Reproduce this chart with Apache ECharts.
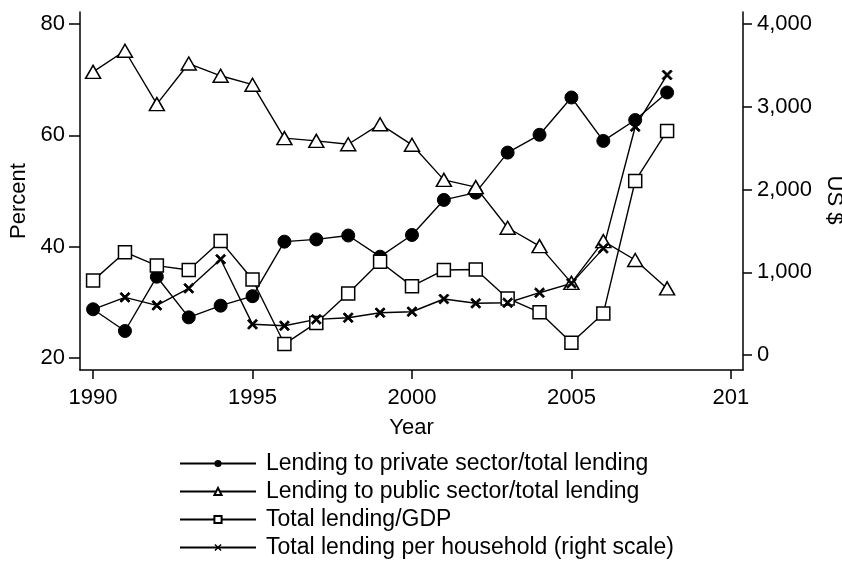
<!DOCTYPE html>
<html>
<head>
<meta charset="utf-8">
<script src="https://cdn.jsdelivr.net/npm/echarts@6/dist/echarts.min.js"></script>
<style>html,body{margin:0;padding:0;background:#fff}#c{width:842px;height:561px}</style>
</head>
<body>
<div id="c"></div>
<script>
const years = [1990,1991,1992,1993,1994,1995,1996,1997,1998,1999,2000,2001,2002,2003,2004,2005,2006,2007,2008];
const privateShare = [28.75,24.85,34.6,27.3,29.4,31.1,40.9,41.3,42.0,38.2,42.1,48.4,49.7,56.9,60.1,66.8,59.0,62.75,67.7];
const publicShare = [71.4,75.2,65.6,72.9,70.7,69.1,59.5,59.0,58.4,62.0,58.3,52.0,50.7,43.4,40.1,33.5,41.0,37.6,32.5];
const lendingGDP = [33.9,39.0,36.6,35.8,41.0,34.1,22.5,26.3,31.6,37.3,32.9,35.8,35.9,30.7,28.2,22.75,28.0,51.8,60.8];
const perHousehold = [552,697,600,806,1157,371,354,431,451,511,523,677,625,632,753,866,1289,2759,3384];

const xTicks = [1990,1995,2000,2005,2010];
const xTickLabels = ['1990','1995','2000','2005','201'];
const leftTicks = [20,40,60,80];
const leftTickLabels = ['20','40','60','80'];
const rightTicks = [0,1000,2000,3000,4000];
const rightTickLabels = ['0','1,000','2,000','3,000','4,000'];

const seriesNames = [
  'Lending to private sector/total lending',
  'Lending to public sector/total lending',
  'Total lending/GDP',
  'Total lending per household (right scale)'
];

const FONT = 'Liberation Sans, Arial, sans-serif';
const xMark = 'path://M0,1.4L1.4,0L5,3.6L8.6,0L10,1.4L6.4,5L10,8.6L8.6,10L5,6.4L1.4,10L0,8.6L3.6,5Z';

function pairs(vals){ return years.map((y,i)=>[y, vals[i]]); }

const lineAxis = {show:true, onZero:false, lineStyle:{color:'#000', width:1.5}};
const tickBase = {show:true, lineStyle:{color:'#000', width:1.5}};
const labelBase = {color:'#000', fontFamily:FONT, fontSize:22};

const chart = echarts.init(document.getElementById('c'), null, {renderer:'canvas'});
chart.setOption({
  animation:false,
  backgroundColor:'#fff',
  grid:{left:80, right:99, top:12, bottom:191, containLabel:false, outerBoundsMode:'none'},
  xAxis:{
    type:'value', min:1989.59, max:2010.38,
    name:'Year', nameLocation:'middle', nameGap:47,
    nameTextStyle:{color:'#000', fontFamily:FONT, fontSize:22},
    axisLine:lineAxis,
    axisTick:Object.assign({}, tickBase, {customValues:xTicks, length:9}),
    splitLine:{show:false},
    axisLabel:Object.assign({}, labelBase, {customValues:xTicks, margin:17,
      formatter:v=>xTickLabels[xTicks.indexOf(v)]})
  },
  yAxis:[{
    type:'value', min:17.84, max:82.16, position:'left',
    name:'Percent', nameLocation:'middle', nameGap:50, nameRotate:90,
    nameTextStyle:{color:'#000', fontFamily:FONT, fontSize:22, padding:[0,20,0,0]},
    axisLine:lineAxis,
    axisTick:Object.assign({}, tickBase, {customValues:leftTicks, length:11}),
    splitLine:{show:false},
    axisLabel:Object.assign({}, labelBase, {customValues:leftTicks, margin:15,
      formatter:v=>leftTickLabels[leftTicks.indexOf(v)]})
  },{
    type:'value', min:-181, max:4145, position:'right',
    name:'US $', nameLocation:'middle', nameGap:72, nameRotate:-90,
    nameTextStyle:{color:'#000', fontFamily:FONT, fontSize:22, padding:[0,0,0,18]},
    axisLine:lineAxis,
    axisTick:Object.assign({}, tickBase, {customValues:rightTicks, length:9}),
    splitLine:{show:false},
    axisLabel:Object.assign({}, labelBase, {customValues:rightTicks, margin:14,
      formatter:v=>rightTickLabels[rightTicks.indexOf(v)]})
  }],
  legend:{
    orient:'vertical', left:174, top:447, height:120,
    itemWidth:76, itemHeight:9, itemGap:5,
    textStyle:{color:'#000', fontFamily:FONT, fontSize:23, lineHeight:23, padding:[0,0,0,5]},
    data:seriesNames
  },
  series:[
    {name:seriesNames[0], type:'line', yAxisIndex:0, data:pairs(privateShare),
     symbol:'circle', symbolSize:13, lineStyle:{color:'#000', width:1.4},
     itemStyle:{color:'#000', borderColor:'#000'}},
    {name:seriesNames[1], type:'line', yAxisIndex:0, data:pairs(publicShare),
     symbol:'triangle', symbolSize:[15,13], lineStyle:{color:'#000', width:1.4},
     itemStyle:{color:'#fff', borderColor:'#000', borderWidth:1.5}},
    {name:seriesNames[2], type:'line', yAxisIndex:0, data:pairs(lendingGDP),
     symbol:'rect', symbolSize:13, lineStyle:{color:'#000', width:1.4},
     itemStyle:{color:'#fff', borderColor:'#000', borderWidth:1.5}},
    {name:seriesNames[3], type:'line', yAxisIndex:1, data:pairs(perHousehold),
     symbol:xMark, symbolSize:10, lineStyle:{color:'#000', width:1.4},
     itemStyle:{color:'#000', borderColor:'#000'}}
  ]
});
</script>
</body>
</html>
